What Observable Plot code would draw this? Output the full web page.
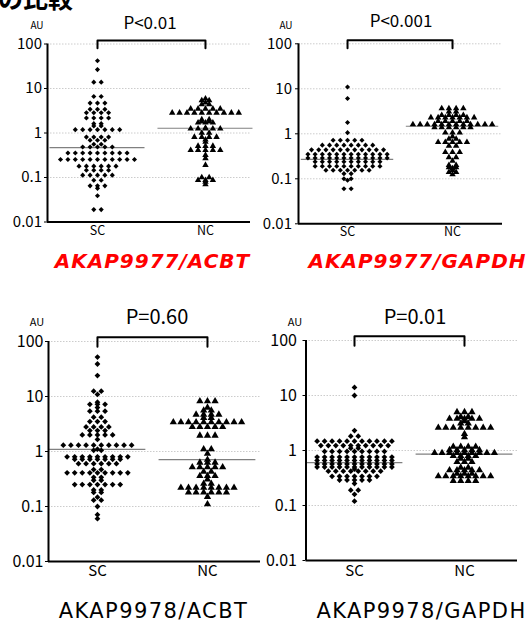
<!DOCTYPE html>
<html><head><meta charset="utf-8">
<script src="https://cdn.jsdelivr.net/npm/d3@7"></script>
<script src="https://cdn.jsdelivr.net/npm/@observablehq/plot@0.6"></script>
<style>
body{margin:0;background:#fff;}
#root{position:relative;width:528px;height:622px;overflow:hidden;background:#fff;font-family:"Noto Sans CJK JP","Noto Sans",sans-serif;color:#000;}
.abs{position:absolute;white-space:nowrap;line-height:1;transform:translate(-50%,-50%);}
svg{position:absolute;}
</style></head><body><div id="root"></div>
<script>
// ---- data ----
const groups = ["SC", "NC"];
const tickValues = [0.01, 0.1, 1, 10, 100];
const tickLabels = ["0.01", "0.1", "1", "10", "100"];
const gridValues = [0.1, 1, 10, 100];
const panelTitles = ["AKAP9977/ACBT", "AKAP9977/GAPDH", "AKAP9978/ACBT", "AKAP9978/GAPDH"];
const pLabels = ["P<0.01", "P<0.001", "P=0.60", "P=0.01"];
const unitLabel = "AU";
const headTitle = "の比較";
const bracketY = [80, 120];

const sc1 = [42, 26.6, 13.9, 13.9, 6.6, 6.6, 4.7, 4.7, 4.7, 3.4, 3.4, 3.4, 2.85, 2.85, 2.85, 2.85,
  2.17, 2.17, 2.17, 2.17, 1.62, 1.62, 1.44, 1.44, 1.19, 1.19, 1.19, 1.19, 1.19, 1.19, 1.19,
  0.81, 0.81, 0.81, 0.81, 0.685, 0.685, 0.685, 0.557, 0.557, 0.486, 0.486, 0.486, 0.486, 0.486,
  0.356, 0.356, 0.356, 0.356, 0.356, 0.356, 0.356, 0.356, 0.356,
  0.253, 0.253, 0.253, 0.253, 0.253, 0.253, 0.253, 0.253, 0.253, 0.253, 0.253,
  0.18, 0.18, 0.18, 0.18, 0.18, 0.18, 0.146, 0.146, 0.146, 0.146, 0.113, 0.113, 0.113, 0.113, 0.113,
  0.087, 0.087, 0.065, 0.065, 0.065, 0.057, 0.039, 0.019, 0.019];
const nc1 = [5.9, 5.4, 5.4, 4.8, 4.4, 4.4, 3.5, 3.5, 3.5, 3.5, 3.5,
  2.85, 2.85, 2.85, 2.85, 2.85, 2.85, 2.85, 2.85, 2.85, 2.85, 2.0, 2.0, 1.8, 1.8, 1.7, 1.7, 1.7,
  1.3, 1.25, 1.25, 1.25, 1.25, 1.25, 1.0, 1.0, 0.81, 0.81, 0.81, 0.81, 0.71, 0.63,
  0.51, 0.51, 0.51, 0.41, 0.41, 0.41, 0.41, 0.41, 0.32, 0.27, 0.19, 0.1, 0.1, 0.087, 0.087, 0.087, 0.08, 0.07];
const sc2 = [11, 6.1, 1.78, 1.06, 0.72, 0.72, 0.72, 0.72, 0.72,
  0.56, 0.56, 0.56, 0.56, 0.56, 0.56, 0.56, 0.56,
  0.44, 0.44, 0.44, 0.44, 0.44, 0.44, 0.44, 0.44, 0.44, 0.44, 0.44,
  0.35, 0.35, 0.35, 0.35, 0.35, 0.35, 0.35, 0.35, 0.35, 0.35, 0.35, 0.35,
  0.29, 0.29, 0.29, 0.29, 0.29, 0.29, 0.29, 0.29, 0.29, 0.29, 0.29, 0.29,
  0.24, 0.24, 0.24, 0.24, 0.24, 0.24, 0.24, 0.24, 0.24, 0.24,
  0.19, 0.19, 0.19, 0.19, 0.19, 0.19, 0.19, 0.19, 0.19, 0.19,
  0.155, 0.155, 0.155, 0.155, 0.155, 0.155, 0.155, 0.13, 0.13, 0.1, 0.1, 0.093, 0.06, 0.06];
const nc2 = [3.65, 3.65, 3.65, 3.65, 3.1, 3.1, 2.6, 2.6, 2.6, 2.6, 2.3, 2.3, 2.3, 2.3, 2.3, 2.3, 2.3,
  1.9, 1.9, 1.9, 1.9, 1.9, 1.62, 1.62, 1.62, 1.62, 1.62, 1.62, 1.62, 1.62, 1.62, 1.62, 1.62, 1.62,
  1.38, 1.38, 1.38, 1.38, 1.38, 1.38, 1.06, 1.06, 1.06, 0.87, 0.77, 0.77, 0.65, 0.65, 0.65, 0.65, 0.65,
  0.54, 0.54, 0.39, 0.39, 0.39, 0.3, 0.3, 0.25, 0.2, 0.2, 0.18, 0.18, 0.17, 0.155, 0.14, 0.14, 0.125];
const sc3 = [52, 39, 24, 12.5, 12.5, 10.9, 7.9, 7.2, 7.2, 7.2, 6.3, 5.4, 5.4, 5.4, 4.2, 4.2, 3.5, 3.5, 3.5,
  2.8, 2.8, 2.8, 2.8, 2.4, 2.4, 2.4, 2.0, 2.0, 2.0, 2.0, 2.0, 1.66,
  1.3, 1.3, 1.3, 1.3, 1.3, 1.3, 1.3, 1.3, 1.3, 1.3, 1.1, 1.05, 1.05,
  0.8, 0.8, 0.8, 0.8, 0.8, 0.8, 0.8, 0.8, 0.8, 0.72, 0.72, 0.72, 0.72, 0.72, 0.72, 0.72,
  0.6, 0.6, 0.6, 0.6, 0.6, 0.6, 0.47, 0.47, 0.41, 0.41, 0.41, 0.41, 0.41, 0.41, 0.41, 0.41, 0.41,
  0.34, 0.34, 0.3, 0.3, 0.25, 0.25, 0.25, 0.25, 0.25, 0.25, 0.25, 0.2, 0.2, 0.18, 0.18, 0.148, 0.13, 0.13, 0.1, 0.071, 0.06];
const nc3 = [8.2, 8.2, 8.2, 6.3, 5.6, 5.6, 4.7, 4.7, 4.7, 4.7, 4.1, 4.1,
  3.4, 3.4, 3.4, 3.4, 3.4, 3.4, 3.4, 3.4, 3.4, 3.4, 2.8, 2.8, 2.8, 2.8, 2.8, 1.95, 1.95, 1.95,
  1.1, 1.1, 0.91, 0.71, 0.63, 0.63, 0.63, 0.52, 0.52, 0.52, 0.52, 0.52, 0.43, 0.43, 0.36, 0.36, 0.36,
  0.31, 0.26, 0.26, 0.22, 0.22, 0.22, 0.22, 0.22, 0.22, 0.22, 0.22, 0.18, 0.18, 0.18, 0.18, 0.18, 0.18, 0.15, 0.11];
const sc4 = [14, 10, 2.3, 1.82, 1.82, 1.48, 1.48, 1.48, 1.48, 1.48, 1.48, 1.48, 1.48, 1.48, 1.48, 1.48,
  1.23, 1.23, 1.23, 1.23, 1.23, 1.23, 1.23, 1.23, 1.23, 1.23, 1.1, 1.1,
  0.96, 0.96, 0.96, 0.96, 0.96, 0.96, 0.96, 0.96, 0.96,
  0.76, 0.76, 0.76, 0.76, 0.76, 0.76, 0.76, 0.76, 0.76, 0.76, 0.76,
  0.66, 0.66, 0.66, 0.66, 0.66, 0.66, 0.66, 0.66, 0.66, 0.66, 0.66,
  0.57, 0.57, 0.57, 0.57, 0.57, 0.57, 0.57, 0.57, 0.57, 0.57, 0.57,
  0.5, 0.5, 0.5, 0.5, 0.5, 0.5, 0.5, 0.5, 0.5, 0.5, 0.5, 0.46,
  0.42, 0.42, 0.42, 0.42, 0.42, 0.42, 0.42, 0.42, 0.34, 0.34, 0.34, 0.34, 0.34, 0.34, 0.34,
  0.29, 0.29, 0.29, 0.29, 0.29, 0.25, 0.19, 0.19, 0.16, 0.12];
const nc4 = [5.0, 5.0, 5.0, 4.1, 4.1, 3.8, 3.8, 3.8, 3.8, 3.8, 3.4, 3.1, 3.1,
  2.6, 2.6, 2.6, 2.6, 2.6, 2.6, 2.6, 2.6, 2.0, 1.75, 1.17, 1.17, 1.17, 1.17, 1.02, 1.02, 1.02, 1.02, 1.02,
  0.9, 0.9, 0.9, 0.9, 0.9, 0.9, 0.9, 0.9, 0.9, 0.8, 0.8, 0.8, 0.8, 0.71, 0.71, 0.62, 0.62, 0.62,
  0.49, 0.49, 0.44, 0.44, 0.44, 0.44, 0.44, 0.38, 0.38, 0.38,
  0.34, 0.34, 0.34, 0.34, 0.34, 0.34, 0.34, 0.34, 0.28, 0.28, 0.28, 0.28];
const medians1 = [0.47, 1.28];
const medians2 = [0.27, 1.47];
const medians3 = [1.09, 0.71];
const medians4 = [0.6, 0.86];

// ---- layout ----
const panels = [
  {sc: sc1, nc: nc1, med: medians1, left: 0, top: 0, width: 255, height: 250, mL: 47, mR: 5, mT: 43.5, mB: 28.5,
   xd: [-0.463, 1.417], col: 0.0685, rD: 2.3, rT: 2.4, tf: 15, tp: 2.5, lf: 12.5, ldy: 13,
   au: [37, 25, 10], p: [150, 21, 17], t: [152.5, 261]},
  {sc: sc2, nc: nc2, med: medians2, left: 255, top: 0, width: 252, height: 250, mL: 43, mR: 5, mT: 43.3, mB: 26.7,
   xd: [-0.467, 1.476], col: 0.0686, rD: 2.3, rT: 2.4, tf: 15, tp: 3.5, lf: 12.5, ldy: 12,
   au: [286, 25, 10], p: [401, 19, 17], t: [417.5, 261]},
  {sc: sc3, nc: nc3, med: medians3, left: 0, top: 300, width: 262, height: 290, mL: 48, mR: 2, mT: 41, mB: 29,
   xd: [-0.445, 1.482], col: 0.069, rD: 2.6, rT: 2.7, tf: 16, tp: 2, lf: 15, ldy: 14,
   au: [37, 321, 11], p: [157, 316, 20], t: [153.5, 610.5]},
  {sc: sc4, nc: nc4, med: medians4, left: 262, top: 300, width: 260, height: 290, mL: 43.5, mR: 5, mT: 40, mB: 30,
   xd: [-0.441, 1.482], col: 0.068, rD: 2.6, rT: 2.7, tf: 16, tp: 6, lf: 15, ldy: 15,
   au: [295, 321, 11], p: [415, 316, 20], t: [421.5, 610.5]}
];

const diamond = d3.symbolDiamond2 || "diamond";
const root = document.getElementById("root");

function rows(values, gi, col) {
  const counts = d3.rollup(values, v => v.length, d => d);
  const seen = new Map();
  return values.map(v => {
    const n = counts.get(v), k = seen.get(v) || 0;
    seen.set(v, k + 1);
    return {value: v, x: gi + (k - (n - 1) / 2) * col};
  });
}

function addText(txt, x, y, css) {
  const d = document.createElement("div");
  d.className = "abs";
  d.textContent = txt;
  d.style.left = x + "px";
  d.style.top = y + "px";
  Object.assign(d.style, css);
  root.appendChild(d);
}

const head = document.createElement("div");
head.textContent = headTitle;
Object.assign(head.style, {position: "absolute", left: "-2px", top: "-15px", fontSize: "25px", fontWeight: "bold", lineHeight: "1", whiteSpace: "nowrap"});
root.appendChild(head);

panels.forEach((c, i) => {
  const scPts = rows(c.sc, 0, c.col);
  const ncPts = rows(c.nc, 1, c.col);
  const medRows = c.med.map((m, gi) => ({gi, value: m}));
  const bracket = [
    {x: 0, y: bracketY[0]}, {x: 0, y: bracketY[1]}, {x: 1, y: bracketY[1]}, {x: 1, y: bracketY[0]}
  ];
  const svg = Plot.plot({
    width: c.width, height: c.height,
    marginLeft: c.mL, marginRight: c.mR, marginTop: c.mT, marginBottom: c.mB,
    style: {background: "transparent", fontFamily: '"Noto Sans CJK JP","Noto Sans",sans-serif', fontSize: c.tf + "px", color: "#000", overflow: "visible"},
    x: {domain: c.xd, axis: null},
    y: {type: "log", domain: [0.01, 100], ticks: tickValues,
        tickFormat: d => tickLabels[tickValues.indexOf(d)], tickSize: 3, tickPadding: c.tp, label: null},
    marks: [
      Plot.ruleY(gridValues, {stroke: "#cccccc", strokeDasharray: "1.5,1.5"}),
      Plot.ruleY(medRows, {y: "value", x1: d => d.gi - 0.44, x2: d => d.gi + 0.44, stroke: "#808080", strokeWidth: 1.2}),
      Plot.dot(scPts, {x: "x", y: "value", symbol: diamond, r: c.rD, fill: "#000"}),
      Plot.dot(ncPts, {x: "x", y: "value", symbol: "triangle", r: c.rT, fill: "#000"}),
      Plot.ruleY([0.01], {stroke: "#000", strokeWidth: 2}),
      Plot.ruleX([c.xd[0]], {y1: 0.01, y2: 100, stroke: "#000", strokeWidth: 2}),
      Plot.line(bracket, {x: "x", y: "y", stroke: "#000", strokeWidth: 2}),
      Plot.text(groups, {x: (d, j) => j, text: d => d, frameAnchor: "bottom", dy: c.ldy, fontSize: c.lf})
    ]
  });
  svg.style.left = c.left + "px";
  svg.style.top = c.top + "px";
  root.appendChild(svg);

  addText(unitLabel, c.au[0], c.au[1], {fontSize: c.au[2] + "px"});
  addText(pLabels[i], c.p[0], c.p[1], {fontSize: c.p[2] + "px"});
  if (i < 2) {
    addText(panelTitles[i], c.t[0], c.t[1], {fontSize: "20px", fontWeight: "bold", fontStyle: "italic", color: "#ff0000",
      fontFamily: '"DejaVu Sans",sans-serif', letterSpacing: "1px"});
  } else {
    addText(panelTitles[i], c.t[0], c.t[1], {fontSize: "21px", fontFamily: '"DejaVu Sans",sans-serif', letterSpacing: "1.4px"});
  }
});
</script></body></html>
